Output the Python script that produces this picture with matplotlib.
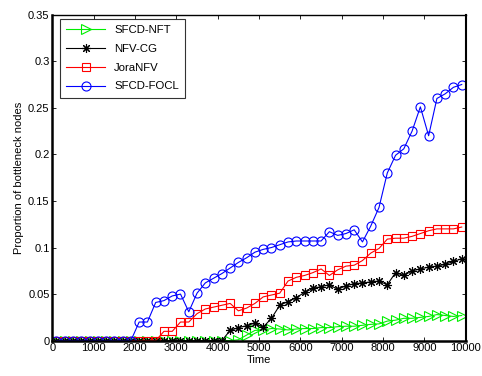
import matplotlib
matplotlib.use("Agg")
import matplotlib.pyplot as plt

plt.rcParams['font.family'] = ['Liberation Sans', 'DejaVu Sans']

times = [100, 300, 500, 700, 900, 1100, 1300, 1500, 1700, 1900,
         2100, 2300, 2500, 2700, 2900, 3100, 3300, 3500, 3700, 3900,
         4100, 4300, 4500, 4700, 4900, 5100, 5300, 5500, 5700, 5900,
         6100, 6300, 6500, 6700, 6900, 7100, 7300, 7500, 7700, 7900,
         8100, 8300, 8500, 8700, 8900, 9100, 9300, 9500, 9700, 9900]

sfcd_nft = [0] * 22 + [0.001, 0.006, 0.011, 0.0115, 0.013, 0.0125, 0.0115, 0.0125,
                       0.013, 0.013, 0.014, 0.014, 0.015, 0.0155, 0.0155, 0.0165,
                       0.0175, 0.018, 0.021, 0.022, 0.024, 0.024, 0.025, 0.026,
                       0.028, 0.027, 0.026, 0.027]
nfv_cg = [0] * 21 + [0.011, 0.014, 0.016, 0.019, 0.0145, 0.024, 0.038, 0.042, 0.046,
                     0.052, 0.056, 0.058, 0.060, 0.055, 0.059, 0.061, 0.062, 0.063,
                     0.064, 0.060, 0.073, 0.070, 0.075, 0.077, 0.079, 0.080, 0.082,
                     0.085, 0.088]
joranfv = [0] * 13 + [0.01, 0.01, 0.02, 0.02, 0.029, 0.034, 0.036, 0.038, 0.040, 0.032,
                      0.035, 0.040, 0.047, 0.049, 0.051, 0.064, 0.068, 0.070, 0.073,
                      0.077, 0.070, 0.076, 0.080, 0.081, 0.086, 0.094, 0.099, 0.109,
                      0.110, 0.110, 0.112, 0.115, 0.118, 0.120, 0.120, 0.120, 0.122]
sfcd_focl = [0] * 10 + [0.02, 0.02, 0.041, 0.043, 0.048, 0.050, 0.031, 0.051, 0.062, 0.067,
                        0.072, 0.078, 0.084, 0.089, 0.095, 0.098, 0.100, 0.103, 0.106, 0.107,
                        0.107, 0.107, 0.107, 0.117, 0.113, 0.115, 0.119, 0.106, 0.123, 0.143,
                        0.180, 0.199, 0.206, 0.225, 0.251, 0.220, 0.260, 0.265, 0.272, 0.275]

labels = ['SFCD-NFT', 'NFV-CG', 'JoraNFV', 'SFCD-FOCL']
xticks = [0, 1000, 2000, 3000, 4000, 5000, 6000, 7000, 8000, 9000, 10000]
yticks = [0, 0.05, 0.1, 0.15, 0.2, 0.25, 0.3, 0.35]
ytick_labels = ['0', '0.05', '0.1', '0.15', '0.2', '0.25', '0.3', '0.35']

fig = plt.figure(figsize=(4.82, 3.76), dpi=100)
ax = fig.add_axes([0.1085, 0.094, 0.858, 0.867])

ax.plot(times, sfcd_nft, color='#00ee00', marker='>', markersize=6.5, mfc='none', mew=0.8, lw=0.8, label=labels[0])
ax.plot(times, nfv_cg, color='black', marker=(8, 2, 0), markersize=6.5, mfc='none', mew=0.8, lw=0.8, label=labels[1])
ax.plot(times, joranfv, color='#ff0000', marker='s', markersize=5.5, mfc='none', mew=0.8, lw=0.8, label=labels[2])
ax.plot(times, sfcd_focl, color='#0000ff', marker='o', markersize=6.5, mfc='none', mew=0.8, lw=0.8, label=labels[3])

ax.set_xlim(0, 10000)
ax.set_ylim(0, 0.35)
ax.set_xticks(xticks)
ax.set_xticklabels([str(t) for t in xticks])
ax.set_yticks(yticks)
ax.set_yticklabels(ytick_labels)
ax.tick_params(direction='in', top=True, right=True, labelsize=8, length=3, width=0.6, pad=2)
for s in ax.spines.values():
    s.set_linewidth(1.0)
ax.spines['left'].set_linewidth(1.8)
ax.spines['bottom'].set_linewidth(1.8)
ax.spines['right'].set_linewidth(1.5)

ax.set_xlabel('Time', fontsize=8, labelpad=1)
ax.set_ylabel('Proportion of bottleneck nodes', fontsize=8, labelpad=3)

leg = ax.legend(loc='upper left', fontsize=8.2, frameon=True, fancybox=False,
                edgecolor='black', handlelength=3.4, borderpad=0.55, labelspacing=0.78,
                borderaxespad=0, bbox_to_anchor=(0.019, 0.988))
leg.get_frame().set_linewidth(0.8)

fig.savefig('out.png', dpi=100)
